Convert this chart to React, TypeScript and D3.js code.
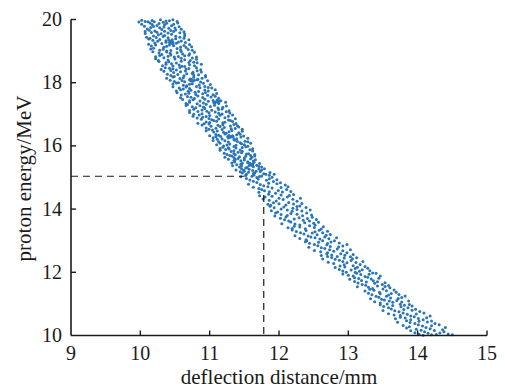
import React, { useEffect, useState } from "react";
import * as d3 from "d3";

const xTicks = [9, 10, 11, 12, 13, 14, 15];
const yTicks = [10, 12, 14, 16, 18, 20];
const xLabel = "deflection distance/mm";
const yLabel = "proton energy/MeV";
const guideH: [number, number][] = [[9, 15.04], [11.5, 15.04]];
const guideV: [number, number][] = [[11.78, 14.45], [11.78, 10]];

const upperPoints: [number, number][] = [
[9.98,19.92],
[10.02,19.98],[10.07,19.94],[10.17,19.97],[10.20,19.93],[10.29,19.99],[10.37,19.95],[10.42,19.96],[10.53,19.94],
[10.02,19.85],[10.14,19.89],[10.17,19.84],[10.27,19.87],[10.35,19.83],[10.38,19.88],[10.48,19.85],[10.54,19.89],
[10.06,19.79],[10.15,19.75],[10.19,19.78],[10.28,19.74],[10.34,19.76],[10.45,19.80],[10.50,19.73],[10.56,19.77],
[10.07,19.62],[10.13,19.66],[10.21,19.64],[10.31,19.68],[10.35,19.63],[10.44,19.65],[10.51,19.67],[10.63,19.61],
[10.07,19.56],[10.16,19.59],[10.26,19.52],[10.30,19.55],[10.40,19.57],[10.45,19.53],[10.57,19.58],[10.64,19.54],
[10.09,19.44],[10.19,19.48],[10.23,19.43],[10.33,19.46],[10.40,19.42],[10.51,19.47],[10.57,19.44],[10.64,19.48],
[10.12,19.38],[10.18,19.34],[10.28,19.37],[10.37,19.33],[10.41,19.35],[10.51,19.39],[10.59,19.32],[10.70,19.36],
[10.12,19.22],[10.21,19.26],[10.31,19.24],[10.37,19.28],[10.47,19.23],[10.52,19.25],[10.65,19.27],[10.71,19.21],
[10.16,19.16],[10.22,19.19],[10.34,19.12],[10.38,19.15],[10.48,19.17],[10.58,19.13],[10.63,19.18],[10.74,19.14],
[10.15,19.07],[10.28,19.03],[10.33,19.06],[10.44,19.02],[10.53,19.08],[10.58,19.04],[10.69,19.05],[10.75,19.03],
[10.18,18.98],[10.27,18.94],[10.38,18.97],[10.43,18.93],[10.53,18.95],[10.59,18.99],[10.71,18.92],[10.78,18.96],
[10.22,18.82],[10.28,18.86],[10.40,18.84],[10.44,18.88],[10.55,18.83],[10.64,18.85],[10.70,18.87],[10.81,18.81],
[10.22,18.76],[10.34,18.79],[10.40,18.72],[10.50,18.75],[10.59,18.77],[10.64,18.73],[10.75,18.78],[10.81,18.74],
[10.27,18.67],[10.37,18.63],[10.41,18.66],[10.52,18.62],[10.59,18.68],[10.70,18.64],[10.77,18.65],[10.82,18.63],
[10.32,18.54],[10.37,18.58],[10.47,18.53],[10.56,18.56],[10.60,18.52],[10.71,18.57],[10.78,18.54],[10.88,18.58],
[10.30,18.42],[10.42,18.46],[10.47,18.44],[10.57,18.48],[10.66,18.43],[10.70,18.45],[10.81,18.47],[10.87,18.41],
[10.34,18.36],[10.44,18.39],[10.48,18.32],[10.58,18.35],[10.65,18.37],[10.76,18.33],[10.82,18.38],[10.88,18.34],
[10.39,18.27],[10.44,18.23],[10.54,18.26],[10.63,18.22],[10.67,18.28],[10.77,18.24],[10.84,18.25],[10.94,18.23],
[10.38,18.14],[10.47,18.18],[10.57,18.13],[10.62,18.16],[10.72,18.12],[10.77,18.17],[10.89,18.14],[10.94,18.18],
[10.43,18.08],[10.49,18.04],[10.60,18.07],[10.64,18.03],[10.73,18.05],[10.82,18.09],[10.87,18.02],[10.97,18.06],
[10.47,17.96],[10.52,17.99],[10.62,17.92],[10.71,17.95],[10.75,17.97],[10.85,17.93],[10.91,17.98],[11.01,17.94],
[10.47,17.87],[10.56,17.83],[10.66,17.86],[10.71,17.82],[10.81,17.88],[10.86,17.84],[10.98,17.85],[11.03,17.83],
[10.52,17.74],[10.58,17.78],[10.69,17.73],[10.73,17.76],[10.84,17.72],[10.93,17.77],[10.98,17.74],[11.08,17.78],
[10.53,17.68],[10.65,17.64],[10.70,17.67],[10.80,17.63],[10.90,17.65],[10.94,17.69],[11.05,17.62],[11.10,17.66],
[10.58,17.52],[10.68,17.56],[10.73,17.54],[10.83,17.58],[10.90,17.53],[11.02,17.55],[11.08,17.57],[11.13,17.51],
[10.61,17.47],[10.71,17.43],[10.76,17.46],[10.86,17.42],[10.93,17.48],[11.05,17.44],[11.11,17.45],[11.16,17.43],
[10.66,17.34],[10.71,17.38],[10.82,17.33],[10.91,17.36],[10.95,17.32],[11.06,17.37],[11.13,17.34],[11.23,17.38],
[10.66,17.28],[10.75,17.24],[10.86,17.27],[10.91,17.23],[11.01,17.25],[11.07,17.29],[11.19,17.22],[11.24,17.26],
[10.71,17.12],[10.77,17.16],[10.89,17.14],[10.93,17.18],[11.03,17.13],[11.13,17.15],[11.18,17.17],[11.28,17.11],
[10.71,17.06],[10.83,17.09],[10.89,17.02],[10.99,17.05],[11.08,17.07],[11.13,17.03],[11.24,17.08],[11.29,17.04],
[10.76,16.94],[10.85,16.98],[10.95,16.93],[11.00,16.96],[11.10,16.92],[11.15,16.97],[11.27,16.94],[11.33,16.98],
[10.82,16.88],[10.88,16.84],[10.99,16.87],[11.03,16.83],[11.13,16.85],[11.22,16.89],[11.27,16.82],[11.37,16.86],
[10.83,16.72],[10.95,16.76],[11.00,16.74],[11.10,16.78],[11.19,16.73],[11.22,16.75],[11.33,16.77],[11.38,16.71],
[10.89,16.66],[10.99,16.69],[11.02,16.62],[11.12,16.65],[11.19,16.67],[11.30,16.63],[11.35,16.68],[11.40,16.64],
[10.95,16.57],[10.99,16.53],[11.09,16.56],[11.18,16.52],[11.21,16.58],[11.31,16.54],[11.37,16.55],[11.47,16.53],
[10.95,16.48],[11.06,16.44],[11.11,16.47],[11.20,16.43],[11.28,16.45],[11.32,16.49],[11.42,16.42],[11.47,16.46],
[11.00,16.32],[11.09,16.36],[11.13,16.34],[11.22,16.38],[11.28,16.33],[11.39,16.35],[11.44,16.37],[11.49,16.31],
[11.05,16.26],[11.09,16.29],[11.18,16.22],[11.27,16.25],[11.30,16.27],[11.39,16.23],[11.45,16.28],[11.55,16.24],
[11.05,16.17],[11.13,16.13],[11.22,16.16],[11.27,16.12],[11.36,16.18],[11.40,16.14],[11.51,16.15],[11.55,16.13],
[11.10,16.04],[11.15,16.08],[11.25,16.03],[11.29,16.06],[11.38,16.02],[11.46,16.07],[11.50,16.04],[11.59,16.08],
[11.15,15.92],[11.19,15.96],[11.27,15.94],[11.35,15.98],[11.38,15.93],[11.47,15.95],[11.52,15.97],[11.62,15.91],
[11.15,15.86],[11.23,15.89],[11.31,15.82],[11.35,15.85],[11.44,15.87],[11.47,15.83],[11.58,15.88],[11.62,15.84],
[11.21,15.77],[11.25,15.73],[11.35,15.76],[11.37,15.72],[11.46,15.78],[11.53,15.74],[11.56,15.75],[11.65,15.73],
[11.22,15.64],[11.32,15.68],[11.35,15.63],[11.43,15.66],[11.50,15.62],[11.52,15.67],[11.61,15.64],[11.65,15.68],
[11.27,15.58],[11.35,15.54],[11.37,15.57],[11.45,15.53],[11.50,15.55],[11.59,15.59],[11.63,15.52],[11.66,15.56],
[11.32,15.46],[11.36,15.49],[11.45,15.42],[11.47,15.45],[11.55,15.47],[11.62,15.43],[11.64,15.48],[11.72,15.44],
[11.33,15.37],[11.43,15.33],[11.46,15.36],[11.54,15.32],[11.61,15.38],[11.63,15.34],[11.71,15.35],[11.75,15.33],
[11.38,15.24],[11.46,15.28],[11.49,15.23],[11.57,15.26],[11.62,15.22],[11.71,15.27],[11.75,15.24],[11.79,15.28],
[11.44,15.18],[11.47,15.14],[11.56,15.17],[11.63,15.13],[11.65,15.15],[11.73,15.19],[11.78,15.12],[11.87,15.16],
[11.45,15.02],[11.52,15.06],[11.61,15.04],[11.64,15.08],[11.72,15.03],[11.75,15.05],[11.86,15.07],[11.90,15.01],
];

const upperExtra: [number, number][] = [
[10.11,19.93],[10.33,19.91],[10.47,19.99],[10.24,19.81],[10.41,19.72],[10.10,19.70],[10.59,19.69],[10.24,19.60],[10.48,19.62],[10.35,19.49],
[10.14,19.41],[10.46,19.36],[10.63,19.41],[10.25,19.31],[10.55,19.29],[10.42,19.19],[10.19,19.09],[10.66,19.11],[10.38,19.00],[10.61,18.91],
[10.31,18.89],[10.49,18.81],[10.26,18.70],[10.72,18.70],[10.45,18.60],[10.64,18.51],[10.36,18.47],[10.52,18.40],[10.75,18.29],[10.49,18.20],
[10.83,18.11],[10.55,18.00],[10.67,17.90],[10.93,17.88],[10.62,17.80],[10.79,17.70],[10.59,17.61],[10.97,17.60],[10.78,17.50],[10.98,17.41],
[10.68,17.31],[10.80,17.21],[11.12,17.20],[10.96,17.10],[10.77,17.00],[11.18,17.01],[10.90,16.91],[11.06,16.80],[11.30,16.80],[10.92,16.70],
[11.15,16.61],[11.42,16.60],[11.04,16.50],[11.24,16.40],[11.16,16.30],[11.35,16.20],[11.11,16.21],[11.44,16.10],[11.20,16.00],[11.55,15.99],
[11.28,15.90],[11.41,15.80],[11.29,15.70],[11.59,15.70],[11.41,15.60],[11.55,15.50],[11.39,15.40],[11.68,15.39],[11.52,15.30],[11.67,15.20],
[11.53,15.10],[11.81,15.10],[11.68,15.00],[11.93,15.10],[11.50,15.20],
[10.44,19.31],[10.47,19.28],[10.42,19.27],[10.45,19.25],
[10.74,18.10],[10.78,18.08],[10.76,18.05],[10.71,18.09],
[11.09,17.40],[11.12,17.37],[11.07,17.35],[11.14,17.41],
[11.31,16.30],[11.34,16.28],[11.33,16.32],[11.26,16.30],
[11.59,15.42],[11.57,15.38],[11.62,15.40],[11.58,15.45],
];

const lowerPoints: [number, number][] = [
[11.53,14.97],[11.58,14.92],[11.70,14.95],[11.82,14.91],[11.86,14.96],[11.97,14.93],
[11.56,14.79],[11.68,14.84],[11.73,14.78],[11.85,14.82],[11.97,14.80],[12.02,14.83],
[11.63,14.69],[11.71,14.65],[11.84,14.71],[11.90,14.67],[12.03,14.68],[12.13,14.71],
[11.71,14.53],[11.79,14.58],[11.86,14.55],[11.99,14.59],[12.05,14.54],[12.17,14.56],
[11.72,14.42],[11.85,14.47],[11.90,14.41],[12.03,14.45],[12.15,14.43],[12.21,14.46],
[11.77,14.32],[11.86,14.28],[12.00,14.34],[12.06,14.30],[12.20,14.31],[12.31,14.34],
[11.84,14.15],[11.92,14.20],[12.00,14.17],[12.14,14.21],[12.21,14.16],[12.33,14.18],
[11.87,14.09],[11.93,14.04],[12.07,14.07],[12.20,14.03],[12.26,14.08],[12.39,14.05],
[11.89,13.95],[11.98,13.91],[12.12,13.97],[12.19,13.93],[12.33,13.94],[12.45,13.97],
[11.94,13.78],[12.03,13.83],[12.12,13.80],[12.26,13.84],[12.34,13.79],[12.47,13.81],
[12.02,13.71],[12.08,13.66],[12.22,13.69],[12.35,13.65],[12.41,13.70],[12.54,13.67],
[12.04,13.54],[12.17,13.59],[12.23,13.53],[12.37,13.57],[12.50,13.55],[12.57,13.58],
[12.13,13.41],[12.22,13.46],[12.30,13.43],[12.44,13.47],[12.51,13.42],[12.64,13.44],
[12.19,13.34],[12.25,13.29],[12.39,13.32],[12.52,13.28],[12.58,13.33],[12.70,13.30],
[12.23,13.16],[12.36,13.21],[12.42,13.15],[12.55,13.19],[12.68,13.17],[12.74,13.20],
[12.30,13.07],[12.39,13.03],[12.52,13.09],[12.59,13.05],[12.72,13.06],[12.83,13.09],
[12.38,12.97],[12.44,12.92],[12.57,12.95],[12.70,12.91],[12.75,12.96],[12.87,12.93],
[12.43,12.79],[12.56,12.84],[12.61,12.78],[12.74,12.82],[12.86,12.80],[12.92,12.83],
[12.51,12.69],[12.60,12.65],[12.73,12.71],[12.79,12.67],[12.92,12.68],[13.03,12.71],
[12.61,12.53],[12.69,12.58],[12.76,12.55],[12.89,12.59],[12.95,12.54],[13.07,12.56],
[12.63,12.42],[12.76,12.47],[12.81,12.41],[12.94,12.45],[13.06,12.43],[13.12,12.46],
[12.71,12.32],[12.79,12.28],[12.92,12.34],[12.98,12.30],[13.11,12.31],[13.21,12.34],
[12.81,12.15],[12.88,12.20],[12.95,12.17],[13.07,12.21],[13.13,12.16],[13.24,12.18],
[12.87,12.09],[12.92,12.04],[13.04,12.07],[13.16,12.03],[13.20,12.08],[13.31,12.05],
[12.92,11.95],[13.00,11.91],[13.12,11.97],[13.18,11.93],[13.30,11.94],[13.40,11.97],
[13.02,11.78],[13.09,11.83],[13.15,11.80],[13.28,11.84],[13.33,11.79],[13.44,11.81],
[13.09,11.71],[13.14,11.66],[13.26,11.69],[13.38,11.65],[13.42,11.70],[13.53,11.67],
[13.13,11.54],[13.25,11.59],[13.29,11.53],[13.42,11.57],[13.53,11.55],[13.58,11.58],
[13.24,11.41],[13.31,11.46],[13.37,11.43],[13.50,11.47],[13.55,11.42],[13.66,11.44],
[13.29,11.34],[13.34,11.29],[13.46,11.32],[13.58,11.28],[13.62,11.33],[13.73,11.30],
[13.32,11.16],[13.44,11.21],[13.48,11.15],[13.61,11.19],[13.72,11.17],[13.77,11.20],
[13.38,11.07],[13.46,11.03],[13.59,11.09],[13.64,11.05],[13.77,11.06],[13.87,11.09],
[13.46,10.97],[13.51,10.92],[13.64,10.95],[13.76,10.91],[13.81,10.96],[13.92,10.93],
[13.50,10.79],[13.62,10.84],[13.67,10.78],[13.80,10.82],[13.92,10.80],[13.97,10.83],
[13.58,10.69],[13.66,10.65],[13.79,10.71],[13.85,10.67],[13.98,10.68],[14.09,10.71],
[13.68,10.53],[13.75,10.58],[13.82,10.55],[13.95,10.59],[14.01,10.54],[14.13,10.56],
[13.71,10.42],[13.84,10.47],[13.89,10.41],[14.02,10.45],[14.14,10.43],[14.20,10.46],
[13.79,10.32],[13.88,10.28],[14.01,10.34],[14.07,10.30],[14.20,10.31],[14.31,10.34],
[13.90,10.15],[13.98,10.20],[14.05,10.17],[14.18,10.21],[14.24,10.16],[14.36,10.18],
[13.96,10.09],[14.02,10.04],[14.15,10.07],[14.27,10.03],[14.32,10.08],[14.44,10.05],
[14.50,10.02],
];

const lowerExtra: [number, number][] = [
[11.63,14.88],[11.92,14.87],[11.78,14.74],[12.09,14.76],[11.75,14.62],[11.95,14.50],[12.11,14.62],[11.80,14.38],[12.12,14.38],[11.96,14.26],
[12.26,14.25],[11.88,14.12],[12.10,14.13],[12.30,14.10],[12.03,14.00],[12.26,13.99],[11.95,13.88],[12.17,13.86],[12.40,13.88],[12.10,13.75],
[12.29,13.73],[12.48,13.74],[12.14,13.62],[12.44,13.62],[12.30,13.50],[12.52,13.50],[12.19,13.39],[12.38,13.38],[12.61,13.37],[12.31,13.25],
[12.48,13.24],[12.63,13.25],[12.46,13.12],[12.66,13.12],[12.40,13.00],[12.63,13.00],[12.80,13.00],[12.51,12.88],[12.69,12.87],[12.98,12.88],
[12.66,12.75],[12.84,12.74],[12.98,12.62],[12.70,12.62],[12.84,12.50],[13.03,12.49],[12.70,12.50],[12.87,12.38],[13.04,12.37],[13.17,12.25],
[12.94,12.24],[13.10,12.12],[13.28,12.13],[12.97,12.00],[13.10,12.00],[13.35,11.98],[13.07,11.88],[13.24,11.87],[13.46,11.88],[13.19,11.74],
[13.36,11.73],[13.49,11.61],[13.20,11.61],[13.35,11.49],[13.60,11.51],[13.45,11.37],[13.69,11.37],[13.40,11.24],[13.55,11.24],[13.82,11.25],
[13.52,11.12],[13.70,11.11],[13.56,11.00],[13.75,10.99],[13.88,10.98],[13.58,10.88],[13.86,10.88],[13.73,10.75],[14.03,10.76],[13.90,10.62],
[13.75,10.63],[14.18,10.62],[13.90,10.50],[14.08,10.50],[13.96,10.38],[14.25,10.38],[14.12,10.25],[13.84,10.24],[14.40,10.25],[14.10,10.12],
[14.20,10.02],[14.38,10.12],[14.08,10.01],
];

const W = 505;
const H = 390;
const FONT = "Liberation Serif, Times New Roman, Times, serif";
const INK = "#1a1a1a";
const DOT = "#2775b8";

export default function App() {
  const [fontPass, setFontPass] = useState(0);
  useEffect(() => {
    const fonts = (document as any).fonts;
    if (fonts && fonts.load) {
      Promise.all([
        fonts.load('20px "Liberation Serif"'),
        fonts.load('21px "Liberation Serif"'),
      ])
        .then(() => setFontPass((v) => v + 1))
        .catch(() => setFontPass((v) => v + 1));
      if (fonts.ready) fonts.ready.then(() => setFontPass((v) => v + 1));
    }
  }, []);

  const x = d3.scaleLinear().domain([9, 15]).range([71, 487]);
  const y = d3.scaleLinear().domain([10, 20]).range([335.5, 19.5]);
  const pts = [...upperPoints, ...upperExtra, ...lowerPoints, ...lowerExtra];
  const line = d3.line<[number, number]>().x((d) => x(d[0])).y((d) => y(d[1]));
  const y0 = y(10);
  const x0 = x(9);
  const textStyle = { fontFamily: FONT } as React.CSSProperties;
  return (
    <svg
      width={W}
      height={H}
      viewBox={`0 0 ${W} ${H}`}
      fontFamily={FONT}
      style={{ position: "fixed", left: 0, top: 0, background: "#fff", fontFamily: FONT }}
    >
      <rect x={0} y={0} width={W} height={H} fill="#fff" />
      <g>
        {pts.map((p, i) => (
          <circle key={i} cx={x(p[0])} cy={y(p[1])} r={1.5} fill={DOT} />
        ))}
      </g>
      <path d={line(guideH) || ""} fill="none" stroke={INK} strokeWidth={1.2} strokeDasharray="7,5" />
      <path d={line(guideV) || ""} fill="none" stroke={INK} strokeWidth={1.2} strokeDasharray="7,5" />
      <line x1={x0} y1={y(20)} x2={x0} y2={y0} stroke={INK} strokeWidth={1.6} />
      <line x1={x0} y1={y0} x2={x(15)} y2={y0} stroke={INK} strokeWidth={1.6} />
      <g key={"labels" + fontPass}>
        {xTicks.map((t) => (
          <g key={"x" + t}>
            {t !== 9 && <line x1={x(t)} x2={x(t)} y1={y0} y2={y0 - 5} stroke={INK} strokeWidth={1.4} />}
            <text x={x(t)} y={360} textAnchor="middle" style={textStyle} fontSize={20} fill={INK}>
              {t}
            </text>
          </g>
        ))}
        {yTicks.map((t) => (
          <g key={"y" + t}>
            {t !== 10 && <line x1={x0} x2={x0 + 5} y1={y(t)} y2={y(t)} stroke={INK} strokeWidth={1.4} />}
            <text x={62} y={y(t) + 6.5} textAnchor="end" style={textStyle} fontSize={20} fill={INK}>
              {t}
            </text>
          </g>
        ))}
        <text x={279} y={384} textAnchor="middle" style={textStyle} fontSize={21} fill={INK}>
          {xLabel}
        </text>
        <text
          transform={`translate(31,178.5) rotate(-90)`}
          textAnchor="middle"
          style={textStyle}
          fontSize={21}
          fill={INK}
        >
          {yLabel}
        </text>
      </g>
    </svg>
  );
}
